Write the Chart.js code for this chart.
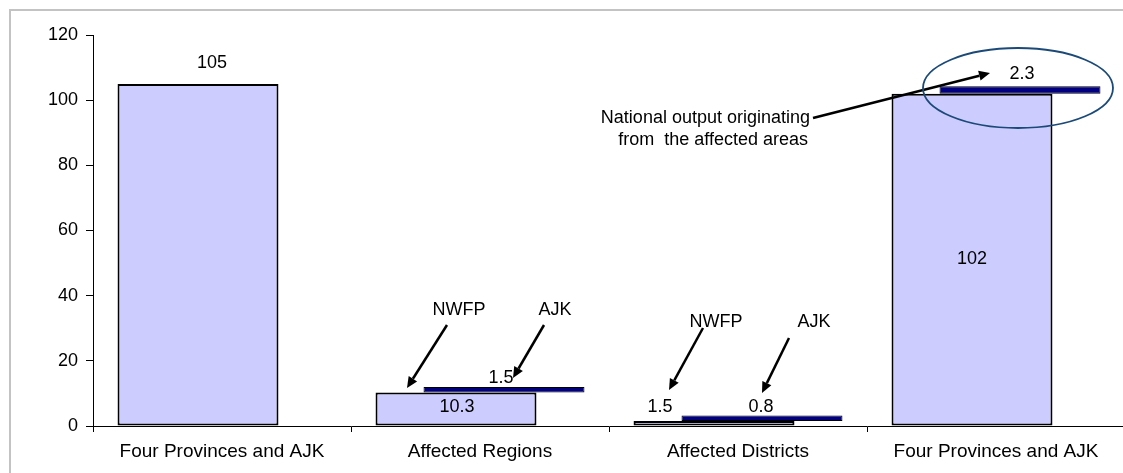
<!DOCTYPE html>
<html>
<head>
<meta charset="utf-8">
<script src="https://cdn.jsdelivr.net/npm/chart.js@4.4.1/dist/chart.umd.min.js"></script>
<style>
  html, body { margin: 0; padding: 0; background: #ffffff; overflow: hidden; }
  #wrap { position: relative; width: 1133px; height: 473px; }
</style>
</head>
<body>
<div id="wrap"><canvas id="c"></canvas></div>
<script>
// ---- data ----
const categories = ["Four Provinces and AJK", "Affected Regions", "Affected Districts", "Four Provinces and AJK"];
const outputValues = [105, 10.3, 1.5, 102];      // light bars
const affectedValues = [null, 1.5, 0.8, 2.3];    // dark bars, sitting on top of the light bars
const yTicks = [0, 20, 40, 60, 80, 100, 120];

// floating dark bars built from the two series
const affectedFloating = affectedValues.map((v, i) => v == null ? null : [outputValues[i], outputValues[i] + v]);

const FONT = "'Liberation Sans', Arial, sans-serif";

// label placement (offsets in px from the bar's centre / top)
const lightLabelPos = [
  { dx: 14, mode: 'above', dy: -21 },
  { dx: 1, mode: 'center', dy: -2 },
  { dx: -54, mode: 'above', dy: -14 },
  { dx: 0, mode: 'center', dy: -1 }
];
const darkLabelPos = [
  null,
  { dx: -3, dy: -9 },
  { dx: -1, dy: -9 },
  { dx: 2, dy: -12 }
];

function arrow(ctx, x1, y1, x2, y2) {
  const ang = Math.atan2(y2 - y1, x2 - x1);
  const hl = 11, hw = 5;
  const bx = x2 - hl * Math.cos(ang), by = y2 - hl * Math.sin(ang);
  ctx.beginPath();
  ctx.moveTo(x1, y1);
  ctx.lineTo(bx, by);
  ctx.stroke();
  ctx.beginPath();
  ctx.moveTo(x2, y2);
  ctx.lineTo(bx + hw * Math.sin(ang), by - hw * Math.cos(ang));
  ctx.lineTo(bx - hw * Math.sin(ang), by + hw * Math.cos(ang));
  ctx.closePath();
  ctx.fill();
}

const framePlugin = {
  id: 'frame',
  beforeDraw(chart) {
    const ctx = chart.ctx;
    ctx.save();
    ctx.strokeStyle = '#c3c3c3';
    ctx.lineWidth = 2;
    ctx.beginPath();
    ctx.moveTo(10, 480);
    ctx.lineTo(10, 10);
    ctx.lineTo(1140, 10);
    ctx.stroke();
    ctx.restore();
  }
};

const labelPlugin = {
  id: 'labels',
  afterDatasetsDraw(chart) {
    const ctx = chart.ctx;
    ctx.save();
    ctx.fillStyle = '#000';
    ctx.font = '18px ' + FONT;
    ctx.textAlign = 'center';
    ctx.textBaseline = 'middle';
    const m0 = chart.getDatasetMeta(0), m1 = chart.getDatasetMeta(1);
    m0.data.forEach((bar, i) => {
      const p = lightLabelPos[i];
      const y = p.mode === 'center' ? (bar.y + bar.base) / 2 + p.dy : bar.y + p.dy;
      ctx.fillText(String(outputValues[i]), bar.x + p.dx, y);
    });
    m1.data.forEach((bar, i) => {
      const p = darkLabelPos[i];
      if (!p || affectedValues[i] == null) return;
      ctx.fillText(String(affectedValues[i]), bar.x + p.dx, bar.y + p.dy);
    });

    // annotations
    const xs = chart.scales.x;
    const c1 = xs.getPixelForValue(1), c2 = xs.getPixelForValue(2), c3 = xs.getPixelForValue(3);
    ctx.strokeStyle = '#000';
    ctx.lineWidth = 2.5;
    ctx.fillText('NWFP', c1 - 21, 310);
    ctx.fillText('AJK', c1 + 75, 310);
    arrow(ctx, c1 - 33, 325, c1 - 73, 388);
    arrow(ctx, c1 + 64, 325, c1 + 33, 378);
    ctx.fillText('NWFP', c2 - 22, 322);
    ctx.fillText('AJK', c2 + 76, 322);
    arrow(ctx, c2 - 35, 328, c2 - 69, 390);
    arrow(ctx, c2 + 51, 338, c2 + 24, 393);

    ctx.textAlign = 'right';
    ctx.fillText('National output originating', c3 - 186, 118);
    ctx.fillText('from  the affected areas', c3 - 188, 140);
    ctx.lineWidth = 2.5;
    arrow(ctx, c3 - 183, 118, c3 - 6, 73);

    ctx.strokeStyle = '#1b4a78';
    ctx.lineWidth = 1.8;
    ctx.beginPath();
    ctx.ellipse(c3 + 22, 88, 95, 40, 0, 0, Math.PI * 2);
    ctx.stroke();
    ctx.restore();
  }
};

new Chart(document.getElementById('c'), {
  type: 'bar',
  data: {
    labels: categories,
    datasets: [
      {
        label: 'National output',
        data: outputValues,
        backgroundColor: '#ccccff',
        borderColor: '#000000',
        borderWidth: 2,
        borderSkipped: false,
        categoryPercentage: 0.372,
        barPercentage: 3.354
      },
      {
        label: 'Affected areas',
        data: affectedFloating,
        backgroundColor: '#000080',
        borderColor: '#000000',
        borderWidth: 1,
        borderSkipped: false,
        minBarLength: 5.5,
        categoryPercentage: 0.372,
        barPercentage: 3.354
      }
    ]
  },
  options: {
    responsive: true,
    maintainAspectRatio: false,
    animation: false,
    layout: { padding: { left: 0, right: 8, top: 35, bottom: 0 } },
    plugins: { legend: { display: false }, tooltip: { enabled: false } },
    scales: {
      x: {
        grid: { display: true, drawOnChartArea: false, drawTicks: true, tickLength: 6, color: '#000', offset: true },
        border: { display: true, color: '#000', width: 1 },
        ticks: { color: '#000', font: { family: FONT, size: 19 }, padding: 8, maxRotation: 0, autoSkip: false },
        afterFit(scale) { scale.height = 47; }
      },
      y: {
        min: 0, max: 120,
        afterBuildTicks(scale) { scale.ticks = yTicks.map(v => ({ value: v })); },
        grid: { display: true, drawOnChartArea: false, drawTicks: true, tickLength: 7, color: '#000' },
        border: { display: true, color: '#000', width: 1 },
        ticks: { color: '#000', font: { family: FONT, size: 18 }, padding: 8 },
        afterFit(scale) { scale.width = 93; }
      }
    }
  },
  plugins: [framePlugin, labelPlugin]
});
</script>
</body>
</html>
